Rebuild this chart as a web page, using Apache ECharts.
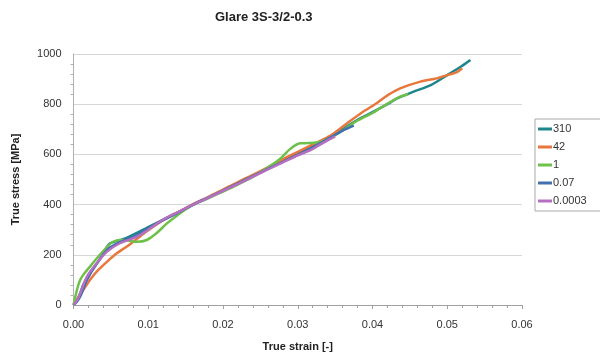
<!DOCTYPE html>
<html>
<head>
<meta charset="utf-8">
<script src="https://cdn.jsdelivr.net/npm/echarts@6/dist/echarts.min.js"></script>
<style>html,body{margin:0;padding:0;background:#fff;}#c{width:600px;height:360px;}</style>
</head>
<body>
<div id="c"></div>
<script>
var titleText = "Glare 3S-3/2-0.3";
var xAxisName = "True strain [-]";
var yAxisName = "True stress [MPa]";
var seriesNames = ["310", "42", "1", "0.07", "0.0003"];
var seriesColors = ["#1d858b", "#e7773c", "#6fc04b", "#4270b0", "#b56fc2"];

var strain310 = [0,0.0005,0.0009,0.0013,0.0022,0.0030,0.0036,0.0045,0.0049,0.0055,0.0062,0.0070,0.0080,0.0090,0.0100,0.0120,0.0140,0.0160,0.0180,0.0200,0.0220,0.0240,0.0260,0.0280,0.0300,0.0320,0.0340,0.0360,0.0380,0.0400,0.0420,0.0433,0.0455,0.0478,0.0500,0.0518,0.0531];
var stress310 = [0,20,47,80,126,160,186,232,246,252,259,266,280,295,310,340,370,400,428,457,486,515,545,575,605,635,665,700,738,768,800,823,850,876,916,949,976];

var strain42 = [0,0.0005,0.0013,0.0022,0.0031,0.0045,0.0058,0.0071,0.0080,0.0090,0.0100,0.0120,0.0140,0.0160,0.0180,0.0200,0.0220,0.0240,0.0260,0.0280,0.0300,0.0320,0.0344,0.0366,0.0385,0.0406,0.0420,0.0437,0.0464,0.0486,0.0500,0.0513,0.0520];
var stress42 = [0,25,60,100,133,173,206,232,252,275,298,338,370,402,430,460,490,518,548,580,610,640,675,724,765,805,835,863,890,903,916,928,943];

var strain1 = [0,0.0003,0.0006,0.0009,0.0013,0.0022,0.0035,0.0045,0.0053,0.0060,0.0067,0.0076,0.0085,0.0098,0.0111,0.0125,0.0140,0.0156,0.0180,0.0200,0.0220,0.0240,0.0260,0.0277,0.0290,0.0303,0.0315,0.0330,0.0345,0.0360,0.0380,0.0400,0.0410,0.0437,0.0448];
var stress1 = [0,40,75,100,120,153,199,232,252,258,259,255,252,259,286,325,360,392,425,452,480,510,548,584,622,644,645,650,668,695,735,765,784,830,840];

var strain007 = [0,0.0005,0.0010,0.0018,0.0030,0.0045,0.0055,0.0062,0.0075,0.0085,0.0100,0.0120,0.0140,0.0160,0.0180,0.0200,0.0220,0.0240,0.0260,0.0280,0.0300,0.0320,0.0344,0.0360,0.0375];
var stress007 = [0,15,40,100,160,220,240,250,265,278,305,338,368,400,428,456,485,513,542,570,598,628,668,695,715];

var strain00003 = [0,0.0005,0.0010,0.0018,0.0031,0.00445,0.0062,0.0085,0.0100,0.0116,0.0129,0.0140,0.0160,0.0180,0.0200,0.0220,0.0240,0.0260,0.0280,0.0300,0.0317,0.0335,0.0350];
var stress00003 = [0,20,55,113,166,212,246,272,300,333,355,370,400,427,455,483,511,540,568,596,617,648,672];

var xTicks = {min: 0, max: 0.06, interval: 0.01};
var yTicks = {min: 0, max: 1000, interval: 200};

function pairs(xs, ys) { return xs.map(function (x, i) { return [x, ys[i]]; }); }
var allData = [
  pairs(strain310, stress310),
  pairs(strain42, stress42),
  pairs(strain1, stress1),
  pairs(strain007, stress007),
  pairs(strain00003, stress00003)
];

var font = "Liberation Sans, Arial, sans-serif";
var chart = echarts.init(document.getElementById('c'), null, {renderer: 'canvas'});
chart.setOption({
  animation: false,
  backgroundColor: '#ffffff',
  title: {
    text: titleText, left: 210, top: 6,
    textStyle: {fontFamily: font, fontSize: 13, fontWeight: 'bold', color: '#222'}
  },
  grid: {left: 73.5, right: 78, top: 54, bottom: 55, containLabel: false},
  legend: {
    orient: 'vertical', left: 535, top: 119,
    data: seriesNames,
    icon: 'rect', itemWidth: 14, itemHeight: 3, itemGap: 6,
    borderColor: '#aaaaaa', borderWidth: 1, padding: [4, 16, 4, 3],
    textStyle: {fontFamily: font, fontSize: 11, color: '#333', lineHeight: 12, padding: [0, 0, 0, -4]}
  },
  xAxis: {
    type: 'value', min: xTicks.min, max: xTicks.max, interval: xTicks.interval,
    name: xAxisName, nameLocation: 'middle', nameGap: 36,
    nameTextStyle: {fontFamily: font, fontSize: 11, fontWeight: 'bold', color: '#222'},
    axisLine: {show: true, lineStyle: {color: '#a0a0a0', width: 1}},
    axisTick: {show: true, inside: false, length: 4, lineStyle: {color: '#a0a0a0'}},
    minorTick: {show: true, splitNumber: 5, length: 3, lineStyle: {color: '#a0a0a0'}},
    splitLine: {show: false},
    axisLabel: {fontFamily: font, fontSize: 11, color: '#333', margin: 14,
      formatter: function (v) { return v.toFixed(2); }}
  },
  yAxis: {
    type: 'value', min: yTicks.min, max: yTicks.max, interval: yTicks.interval,
    name: yAxisName, nameLocation: 'middle', nameGap: 52, nameRotate: 90,
    nameTextStyle: {fontFamily: font, fontSize: 11, fontWeight: 'bold', color: '#222'},
    axisLine: {show: true, lineStyle: {color: '#b0b0b0', width: 1}},
    axisTick: {show: false},
    minorTick: {show: true, splitNumber: 5, length: 3, lineStyle: {color: '#b0b0b0'}},
    splitLine: {show: true, lineStyle: {color: '#d6d6d6', width: 1}},
    axisLabel: {fontFamily: font, fontSize: 11, color: '#333', margin: 12,
      formatter: function (v) { return String(v); }}
  },
  series: seriesNames.map(function (n, i) {
    return {
      name: n, type: 'line', data: allData[i], showSymbol: false, smooth: 0.3,
      color: seriesColors[i],
      lineStyle: {width: 2.5, color: seriesColors[i]}
    };
  })
});
</script>
</body>
</html>
